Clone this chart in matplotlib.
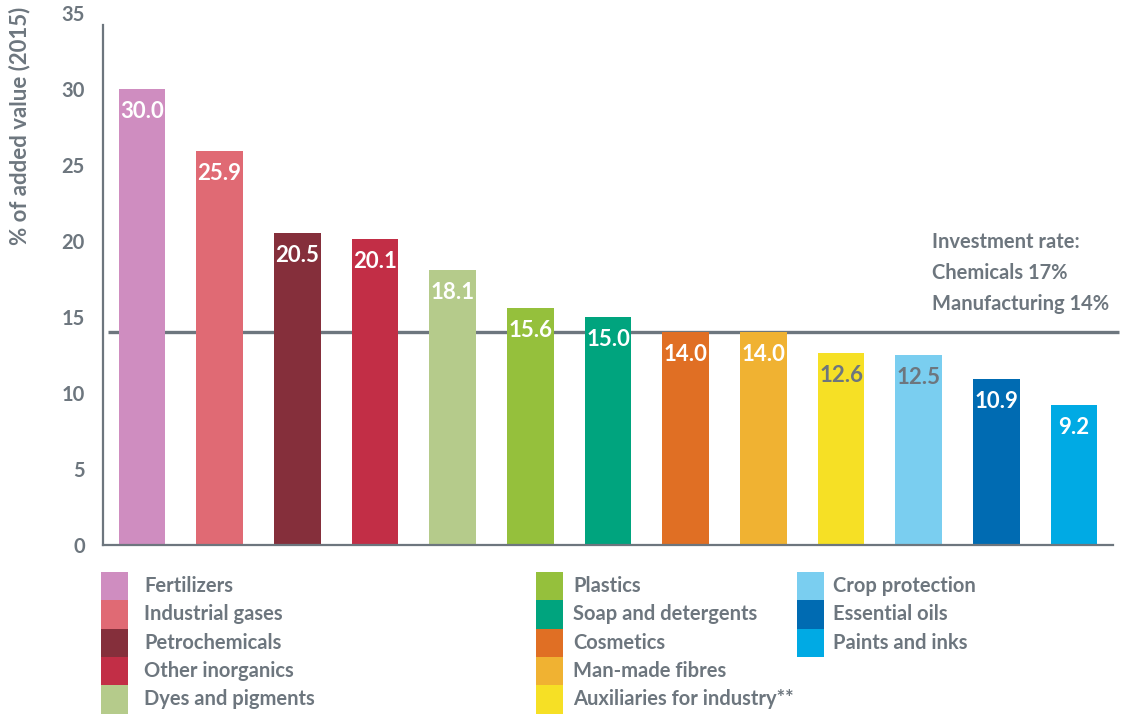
import matplotlib
matplotlib.use("Agg")
import matplotlib.pyplot as plt
from matplotlib.patches import Rectangle

plt.rcParams.update({"font.family": ["Lato", "DejaVu Sans"], "font.weight": "bold"})

GRAY = "#6d767e"

categories = ["Fertilizers", "Industrial gases", "Petrochemicals", "Other inorganics",
              "Dyes and pigments", "Plastics", "Soap and detergents", "Cosmetics",
              "Man-made fibres", "Auxiliaries for industry**", "Crop protection",
              "Essential oils", "Paints and inks"]
values = [30.0, 25.9, 20.5, 20.1, 18.1, 15.6, 15.0, 14.0, 14.0, 12.6, 12.5, 10.9, 9.2]
colors = ["#cf8dc0", "#e06a74", "#852f3b", "#c22e46", "#b5cb8b", "#95c03c", "#00a47e",
          "#e06f24", "#f0b232", "#f6e025", "#7acef0", "#006bb2", "#00aae4"]
label_colors = ["white"] * 9 + [GRAY, GRAY, "white", "white"]
manufacturing_rate = 14
yticks = [0, 5, 10, 15, 20, 25, 30, 35]
note = "Investment rate:\nChemicals 17%\nManufacturing 14%"

W, H = 1125, 715
fig = plt.figure(figsize=(W / 100, H / 100), dpi=100)
ax = fig.add_axes([103 / W, 170 / H, 1010 / W, 532 / H])

x = range(len(values))
ax.bar(x, values, width=0.6, color=colors, zorder=2)
for i, v in enumerate(values):
    ax.annotate(f"{v:.1f}", (i, v), xytext=(0, -16), textcoords="offset points",
                ha="center", va="center", color=label_colors[i],
                fontsize=16, fontweight="bold", zorder=3)

# manufacturing average line, drawn behind the bars
ax.hlines(manufacturing_rate, -0.43, 12.58, color=GRAY, lw=2.4, zorder=1, clip_on=False)

ax.set_xlim(-0.5, 12.5)
ax.set_ylim(0, 35)
ax.set_yticks(yticks)
ax.set_xticks([])
ax.tick_params(axis="y", length=0, pad=13, labelsize=14.5, labelcolor=GRAY)
for s in ["top", "right"]:
    ax.spines[s].set_visible(False)
for s in ["left", "bottom"]:
    ax.spines[s].set_color(GRAY)
    ax.spines[s].set_linewidth(1.6)
ax.spines["left"].set_bounds(0, 34.2)

fig.text(20 / W, 1 - 7 / H, "% of added value (2015)", rotation=90, ha="center",
         va="top", fontsize=16, color=GRAY, fontweight="bold")
fig.text(932 / W, 1 - 273 / H, note, ha="left", va="center", fontsize=14.5,
         color=GRAY, fontweight="bold", linespacing=1.68)

# legend: three columns of stacked swatches
col_patch_x = [101, 536, 797]
col_text_x = [144, 573, 833]
top, row_h = 572, 28.3
for i, (cat, c) in enumerate(zip(categories, colors)):
    col, row = i // 5, i % 5
    y0 = top + row * row_h
    fig.add_artist(Rectangle((col_patch_x[col] / W, 1 - (y0 + row_h) / H), 27 / W,
                             row_h / H, transform=fig.transFigure, color=c, lw=0))
    fig.text(col_text_x[col] / W, 1 - (y0 + row_h / 2) / H, cat, ha="left",
             va="center", fontsize=14.5, color=GRAY, fontweight="bold")

fig.savefig("out.png", dpi=100)
